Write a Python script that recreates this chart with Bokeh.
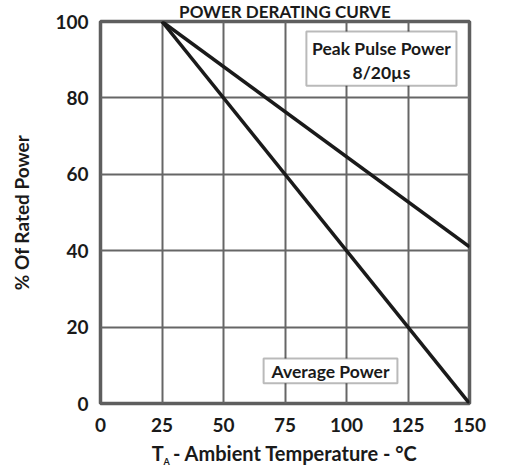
from bokeh.plotting import figure
from bokeh.models import Range1d, FixedTicker, Label, BoxAnnotation, Title
from bokeh.embed import file_html
from bokeh.resources import INLINE

# ---- data ----
temperature = [25, 150]
peak_pulse_power = [100, 41]
average_power = [100, 0]
x_ticks = [0, 25, 50, 75, 100, 125, 150]
y_ticks = [0, 20, 40, 60, 80, 100]

FONT = "Lato"
INK = "#1a1a1a"

p = figure(
    frame_width=369, frame_height=382,
    min_border_left=100, min_border_right=31, min_border_top=21, min_border_bottom=63,
    x_range=Range1d(0, 150), y_range=Range1d(0, 100),
    output_backend="svg", toolbar_location=None,
    background_fill_color="white", border_fill_color="white",
)

# title (kept small so that it stays fully inside the picture)
p.title.text = "POWER DERATING CURVE"
p.title.align = "center"
p.title.text_font = FONT
p.title.text_font_style = "bold"
p.title.text_font_size = "17px"
p.title.text_color = INK
p.title.standoff = -4
p.title.vertical_align = "top"

p.outline_line_color = "#5e5e5e"
p.outline_line_width = 3.5

for ax, ticks in ((p.xaxis, x_ticks), (p.yaxis, y_ticks)):
    ax.ticker = FixedTicker(ticks=ticks)
    ax.axis_line_color = None
    ax.major_tick_line_color = None
    ax.minor_tick_line_color = None
    ax.major_tick_out = 0
    ax.major_tick_in = 0
    ax.major_label_text_font = FONT
    ax.major_label_text_font_style = "bold"
    ax.major_label_text_font_size = "19px"
    ax.major_label_text_color = INK
    ax.axis_label_text_font = FONT
    ax.axis_label_text_font_style = "bold"
    ax.axis_label_text_color = INK
p.xaxis.major_label_standoff = 14
p.yaxis.major_label_standoff = 12

p.yaxis.axis_label = "% Of Rated Power"
p.yaxis.axis_label_text_font_size = "19px"
p.yaxis.axis_label_standoff = 19

p.xaxis.axis_label = "T\u00a0\u00a0- Ambient Temperature - °C"
p.xaxis.axis_label_text_font_size = "20px"
p.xaxis.axis_label_standoff = 6

# subscript "A" of T_A
sub = Title(text="A", align="left", offset=63, standoff=-24, vertical_align="top",
            text_font=FONT, text_font_style="bold", text_font_size="9px", text_color=INK)
p.add_layout(sub, "below")

p.xgrid.ticker = FixedTicker(ticks=x_ticks)
p.ygrid.ticker = FixedTicker(ticks=y_ticks)
p.grid.grid_line_color = "#666666"
p.grid.grid_line_width = 2

# curves
p.line(temperature, peak_pulse_power, line_width=3.5, line_color=INK)
p.line(temperature, average_power, line_width=3.5, line_color=INK)

# annotation boxes
p.add_layout(BoxAnnotation(left=83.7, right=144.7, bottom=83.2, top=97.4,
                           fill_color="white", fill_alpha=1.0,
                           line_color=INK, line_width=2))
p.add_layout(BoxAnnotation(left=66.3, right=120.7, bottom=5.3, top=11.8,
                           fill_color="white", fill_alpha=1.0,
                           line_color=INK, line_width=2))

def lab(x, y, text, size):
    p.add_layout(Label(x=x, y=y, text=text, text_font=FONT, text_font_style="bold",
                       text_font_size=size, text_align="center", text_baseline="middle",
                       text_color=INK))

lab(114.2, 92.9, "Peak Pulse Power", "17.5px")
lab(114.2, 86.6, "8/20µs", "17.5px")
lab(93.5, 8.4, "Average Power", "17.5px")

open("out.html", "w").write(file_html(p, INLINE))
